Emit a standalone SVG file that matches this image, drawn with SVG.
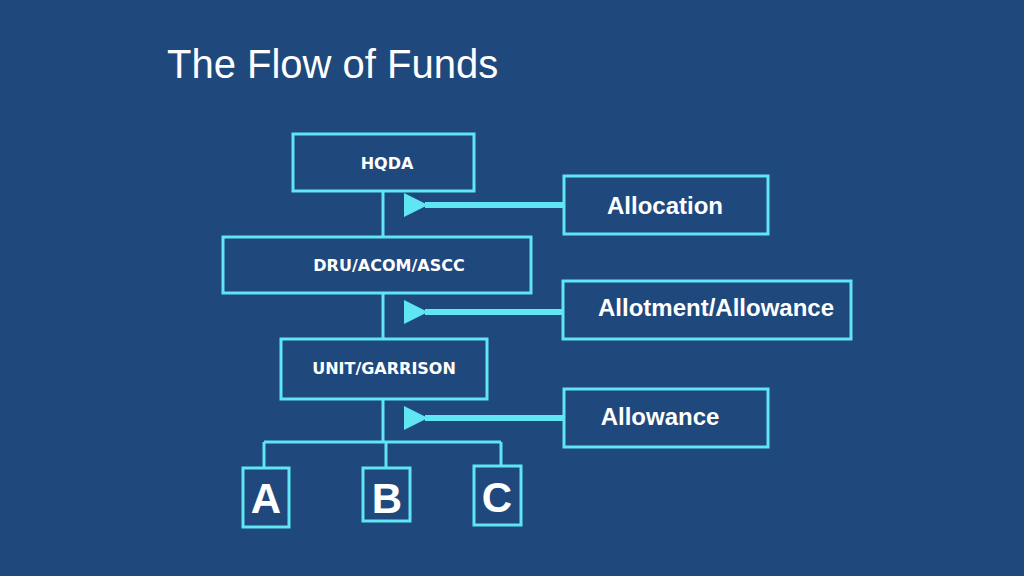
<svg xmlns="http://www.w3.org/2000/svg" width="1024" height="576" viewBox="0 0 1024 576">
<style>
.b{fill:none;stroke:#5fe6f2;stroke-width:3}
.l{stroke:#5fe6f2;stroke-width:3;fill:none}
.a{stroke:#5fe6f2;stroke-width:6;fill:none}
.t{font-family:"DejaVu Sans",Verdana,sans-serif;font-weight:bold;font-size:16px;fill:#fff;text-anchor:middle}
.r{font-family:"Liberation Sans",Arial,sans-serif;font-weight:bold;font-size:24px;fill:#fff;text-anchor:middle}
.big{font-family:"Liberation Sans",Arial,sans-serif;font-weight:bold;font-size:42px;fill:#fff;text-anchor:middle}
</style>
<defs><marker id="ah" markerWidth="4" markerHeight="4" refX="0.5" refY="2" orient="auto" markerUnits="strokeWidth"><path d="M4,0 L0,2 L4,4z" fill="#5fe6f2"/></marker></defs>
<rect width="1024" height="576" fill="#1f497d"/>
<text x="167" y="78" font-family="'Liberation Sans',Arial,sans-serif" font-size="40" fill="#fff">The Flow of Funds</text>
<g id="connectors">
<path class="l" d="M383,191V237M383,293V339M383,399V442M264,442H501M264,442V468M386,442V468M501,442V466"/>
<path class="a" d="M563,205H425" marker-end="url(#ah)"/>
<path class="a" d="M563,312H425" marker-end="url(#ah)"/>
<path class="a" d="M563,418H425" marker-end="url(#ah)"/>
</g>
<g id="hqda"><rect class="b" x="293" y="134" width="181" height="57"/><text class="t" x="387" y="169">HQDA</text></g>
<g id="dru"><rect class="b" x="223" y="237" width="308" height="56"/><text class="t" x="389" y="271">DRU/ACOM/ASCC</text></g>
<g id="unit"><rect class="b" x="281" y="339" width="206" height="60"/><text class="t" x="384" y="374">UNIT/GARRISON</text></g>
<g id="allocation"><rect class="b" x="564" y="176" width="204" height="58"/><text class="r" x="665" y="214">Allocation</text></g>
<g id="allotment"><rect class="b" x="563" y="281" width="288" height="58"/><text class="r" x="716" y="316">Allotment/Allowance</text></g>
<g id="allowance"><rect class="b" x="564" y="389" width="204" height="58"/><text class="r" x="660" y="425">Allowance</text></g>
<g id="a"><rect class="b" x="243" y="468" width="46" height="59"/><text class="big" x="266" y="513">A</text></g>
<g id="b"><rect class="b" x="363" y="468" width="47" height="53"/><text class="big" x="387" y="513">B</text></g>
<g id="c"><rect class="b" x="474" y="466" width="47" height="59"/><text class="big" x="497" y="512">C</text></g>
</svg>
